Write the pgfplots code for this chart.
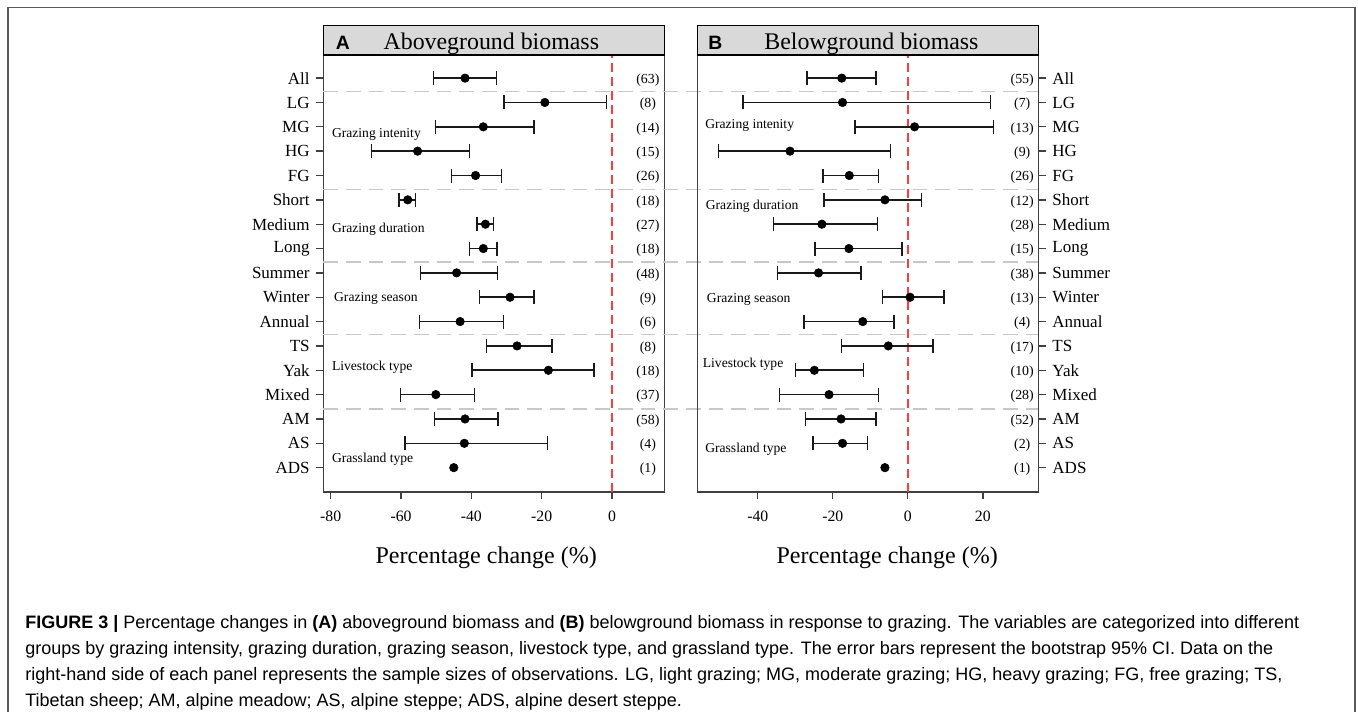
\documentclass[border=0pt]{standalone}
\usepackage{pgfplots}
\pgfplotsset{compat=1.18}
\usepackage{pgfplotstable}
\usepackage{fontspec}
\setmainfont{Liberation Serif}
\newfontfamily\capfont{Liberation Sans}

\definecolor{axisgray}{HTML}{404040}
\definecolor{sepgray}{HTML}{C8C8C8}
\definecolor{zeroline}{HTML}{FF3B3B}
\definecolor{stripgray}{HTML}{D9D9D9}
\definecolor{framegray}{HTML}{5A5A5A}
\definecolor{barcol}{HTML}{1A1A1A}

% effect sizes (percentage change) with bootstrap 95% CI; y = row from the bottom
\pgfplotstableread{
y  m     lo     hi
17 -41.8 -50.8 -32.8
16 -19.1 -30.8 -1.6
15 -36.6 -50.2 -22.2
14 -55.3 -68.4 -40.5
13 -38.8 -45.6 -31.4
12 -58.1 -60.5 -55.9
11 -36.0 -38.4 -33.7
10 -36.6 -40.5 -32.7
9  -44.2 -54.5 -32.6
8  -29.0 -37.7 -22.2
7  -43.2 -54.7 -30.9
6  -27.0 -35.7 -17.0
5  -18.1 -39.8 -5.1
4  -50.1 -60.2 -39.1
3  -41.8 -50.5 -32.5
2  -42.0 -58.8 -18.3
}\aboveci
\pgfplotstableread{
y m
1 -45.0
}\abovesingle

\pgfplotstableread{
y  m     lo     hi
17 -17.6 -26.9 -8.5
16 -17.4 -44.0 22.0
15 1.8   -14.1 22.8
14 -31.4 -50.5 -4.6
13 -15.6 -22.6 -7.8
12 -6.1  -22.3 3.7
11 -22.9 -35.8 -8.1
10 -15.7 -24.8 -1.6
9  -23.8 -34.7 -12.5
8  0.6   -6.7  9.7
7  -12.0 -27.6 -3.7
6  -5.2  -17.7 6.7
5  -24.9 -29.9 -11.8
4  -21.0 -34.2 -7.8
3  -17.8 -27.3 -8.5
2  -17.4 -25.3 -10.7
}\belowci
\pgfplotstableread{
y m
1 -6.1
}\belowsingle

\pgfplotsset{
  forest/.style={
    scale only axis, width=256.05pt, height=327.75pt,
    ymin=0, ymax=17.95,
    ytick={1,...,17},
    yticklabels={ADS,AS,AM,Mixed,Yak,TS,Annual,Winter,Summer,Long,Medium,Short,FG,HG,MG,LG,All},
    tick align=outside, major tick length=5.25pt,
    axis line style={draw=axisgray, line width=1.1pt},
    tick style={draw=axisgray, line width=1pt},
    clip=false,
    /pgf/number format/assume math mode=true,
    xticklabel style={font=\fontsize{11.8}{13}\selectfont, yshift=-5.5pt},
    yticklabel style={font=\fontsize{12.75}{14}\selectfont},
    xlabel={Percentage change (\%)},
    xlabel style={font=\fontsize{18}{21}\selectfont, anchor=center},
  },
  cidots/.style={only marks, mark=*, mark size=3.2pt, mark options={fill=black, draw=black},
    error bars/.cd, x dir=both, x explicit, error mark=|,
    error mark options={mark size=5.25pt, line width=1.2pt, barcol},
    error bar style={line width=1.2pt, barcol}},
  singledot/.style={only marks, mark=*, mark size=3.2pt, mark options={fill=black, draw=black}},
}
\tikzset{
  grp/.style={anchor=west, inner sep=0pt, font=\fontsize{10.2}{12}\selectfont},
  cnt/.style={anchor=center, inner sep=0pt, yshift=-1.5pt, font=\fontsize{10.4}{12}\selectfont},
  sep/.style={draw=sepgray, line width=1.1pt, dash pattern=on 11pt off 6pt},
}

\begin{document}
\begin{tikzpicture}
\path[use as bounding box] (0,0) rectangle (1018.5pt,533.25pt);
\draw[framegray, line width=1.1pt] (6pt,-10pt) -- (6pt,527.6pt) -- (1016.25pt,527.6pt) -- (1016.25pt,-10pt);

% ---- A: aboveground biomass
\begin{axis}[forest, at={(242.5pt,164.25pt)}, anchor=south west,
  xmin=-82.1, xmax=15.0, xtick={-80,-60,-40,-20,0},
  ytick pos=left, xtick pos=bottom,
  yticklabel style={xshift=-1.5pt},
  xlabel style={at={(axis description cs:0.477,-0.151)}}]
  % group separators run across both panels
  \pgfplotsinvokeforeach{16.45,12.42,9.44,6.46,3.4}{
    \draw[sep] (axis cs:-82.1,#1) -- (axis cs:121.4,#1);
  }
  \addplot[zeroline, line width=1.1pt, dash pattern=on 7pt off 3.5pt] coordinates {(0,0) (0,17.95)};
  \addplot[cidots] table[x=m, y=y, x error plus expr=\thisrow{hi}-\thisrow{m}, x error minus expr=\thisrow{m}-\thisrow{lo}] {\aboveci};
  \addplot[singledot] table[x=m, y=y] {\abovesingle};
  \node[grp] at (axis cs:-79.7,14.7) {Grazing intenity};
  \node[grp] at (axis cs:-79.7,10.8) {Grazing duration};
  \node[grp] at (axis cs:-79.1,7.97) {Grazing season};
  \node[grp] at (axis cs:-79.7,5.14) {Livestock type};
  \node[grp] at (axis cs:-79.7,1.33) {Grassland type};
  \node[cnt] at (axis cs:10.2,17) {(63)};
  \node[cnt] at (axis cs:10.2,16) {(8)};
  \node[cnt] at (axis cs:10.2,15) {(14)};
  \node[cnt] at (axis cs:10.2,14) {(15)};
  \node[cnt] at (axis cs:10.2,13) {(26)};
  \node[cnt] at (axis cs:10.2,12) {(18)};
  \node[cnt] at (axis cs:10.2,11) {(27)};
  \node[cnt] at (axis cs:10.2,10) {(18)};
  \node[cnt] at (axis cs:10.2,9) {(48)};
  \node[cnt] at (axis cs:10.2,8) {(9)};
  \node[cnt] at (axis cs:10.2,7) {(6)};
  \node[cnt] at (axis cs:10.2,6) {(8)};
  \node[cnt] at (axis cs:10.2,5) {(18)};
  \node[cnt] at (axis cs:10.2,4) {(37)};
  \node[cnt] at (axis cs:10.2,3) {(58)};
  \node[cnt] at (axis cs:10.2,2) {(4)};
  \node[cnt] at (axis cs:10.2,1) {(1)};
  \draw[black, line width=1pt, fill=stripgray] (rel axis cs:0,1) rectangle ([yshift=22pt]rel axis cs:1,1);
  \node[anchor=base, inner sep=0pt, font=\capfont\bfseries\fontsize{14.5}{16}\selectfont] at ([xshift=14.6pt,yshift=4.3pt]rel axis cs:0,1) {A};
  \node[anchor=base, inner sep=0pt, font=\fontsize{17.9}{20}\selectfont] at ([yshift=4.3pt]rel axis cs:0.492,1) {Aboveground biomass};
\end{axis}

% ---- B: belowground biomass
\begin{axis}[forest, at={(523pt,164.25pt)}, anchor=south west,
  xmin=-56.1, xmax=34.9, xtick={-40,-20,0,20},
  ytick pos=right, yticklabel pos=right, xtick pos=bottom,
  yticklabel style={xshift=1.5pt},
  xlabel style={at={(axis description cs:0.556,-0.151)}}]
  \addplot[zeroline, line width=1.1pt, dash pattern=on 7pt off 3.5pt] coordinates {(0,0) (0,17.95)};
  \addplot[cidots] table[x=m, y=y, x error plus expr=\thisrow{hi}-\thisrow{m}, x error minus expr=\thisrow{m}-\thisrow{lo}] {\belowci};
  \addplot[singledot] table[x=m, y=y] {\belowsingle};
  \node[grp] at (axis cs:-54.05,15.07) {Grazing intenity};
  \node[grp] at (axis cs:-53.9,11.75) {Grazing duration};
  \node[grp] at (axis cs:-53.6,7.9) {Grazing season};
  \node[grp] at (axis cs:-54.7,5.25) {Livestock type};
  \node[grp] at (axis cs:-54.05,1.74) {Grassland type};
  \node[cnt] at (axis cs:30.5,17) {(55)};
  \node[cnt] at (axis cs:30.5,16) {(7)};
  \node[cnt] at (axis cs:30.5,15) {(13)};
  \node[cnt] at (axis cs:30.5,14) {(9)};
  \node[cnt] at (axis cs:30.5,13) {(26)};
  \node[cnt] at (axis cs:30.5,12) {(12)};
  \node[cnt] at (axis cs:30.5,11) {(28)};
  \node[cnt] at (axis cs:30.5,10) {(15)};
  \node[cnt] at (axis cs:30.5,9) {(38)};
  \node[cnt] at (axis cs:30.5,8) {(13)};
  \node[cnt] at (axis cs:30.5,7) {(4)};
  \node[cnt] at (axis cs:30.5,6) {(17)};
  \node[cnt] at (axis cs:30.5,5) {(10)};
  \node[cnt] at (axis cs:30.5,4) {(28)};
  \node[cnt] at (axis cs:30.5,3) {(52)};
  \node[cnt] at (axis cs:30.5,2) {(2)};
  \node[cnt] at (axis cs:30.5,1) {(1)};
  \draw[black, line width=1pt, fill=stripgray] (rel axis cs:0,1) rectangle ([yshift=22pt]rel axis cs:1,1);
  \node[anchor=base, inner sep=0pt, font=\capfont\bfseries\fontsize{14.5}{16}\selectfont] at ([xshift=13.5pt,yshift=4.3pt]rel axis cs:0,1) {B};
  \node[anchor=base, inner sep=0pt, font=\fontsize{17.9}{20}\selectfont] at ([yshift=4.3pt]rel axis cs:0.51,1) {Belowground biomass};
\end{axis}

% ---- caption
\begin{scope}[every node/.style={anchor=base west, inner sep=0pt, font=\capfont\fontsize{13.5}{16}\selectfont}]
\node at (18.75pt,62.25pt) {\textbf{FIGURE 3 |} Percentage changes in \textbf{(A)} aboveground biomass and \textbf{(B)} belowground biomass in response to grazing. The variables are categorized into different};
\node at (18.75pt,42.75pt) {groups by grazing intensity, grazing duration, grazing season, livestock type, and grassland type. The error bars represent the bootstrap 95\% CI. Data on the};
\node at (18.75pt,23.25pt) {right-hand side of each panel represents the sample sizes of observations. LG, light grazing; MG, moderate grazing; HG, heavy grazing; FG, free grazing; TS,};
\node at (18.75pt,3.75pt) {Tibetan sheep; AM, alpine meadow; AS, alpine steppe; ADS, alpine desert steppe.};
\end{scope}
\end{tikzpicture}
\end{document}
